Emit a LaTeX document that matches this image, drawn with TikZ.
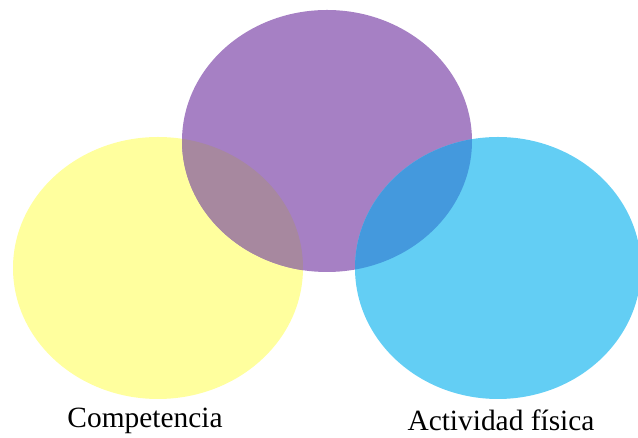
\documentclass[tikz,border=0pt]{standalone}
\usepackage{fontspec}
\setmainfont{Liberation Serif}
\definecolor{cyel}{HTML}{FFFF9E}
\definecolor{cpur}{HTML}{A680C4}
\definecolor{cblu}{HTML}{63CEF4}
\definecolor{cyp}{HTML}{A7889F}
\definecolor{cpb}{HTML}{4499DD}
\tikzset{lbl/.style={font=\fontsize{29.4}{32}\selectfont, anchor=base, inner sep=0pt}}
\begin{document}
\begin{tikzpicture}[x=1pt,y=1pt]
\useasboundingbox (0,0) rectangle (638,438);
\def\yel{(158,170) ellipse [x radius=145, y radius=131]}
\def\pur{(327,297) ellipse [x radius=145, y radius=131]}
\def\blu{(498,170) ellipse [x radius=143, y radius=131]}
\fill[cyel] \yel;
\fill[cpur] \pur;
\begin{scope}
\clip \yel;
\fill[cyp] \pur;
\end{scope}
\fill[cblu] \blu;
\begin{scope}
\clip \blu;
\fill[cpb] \pur;
\end{scope}
\node[lbl] (comp) at (145,10) {Competencia};
\node[lbl] (act) at (501,7) {Actividad física};
\end{tikzpicture}
\end{document}
